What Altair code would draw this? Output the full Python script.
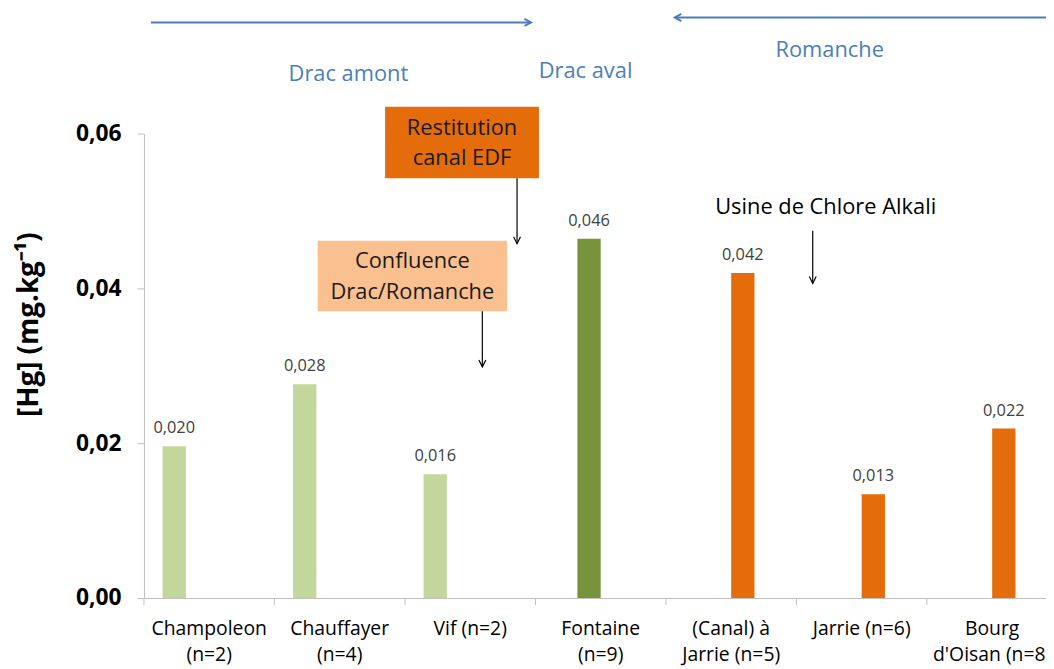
import altair as alt
import pandas as pd

# ---------------- data ----------------
categories = ["Champoleon|(n=2)", "Chauffayer|(n=4)", "Vif (n=2)", "Fontaine|(n=9)",
              "(Canal) à|Jarrie (n=5)", "Jarrie (n=6)", "Bourg|d'Oisan (n=8)"]
series = ["s1", "s1", "s1", "s2", "s3", "s3", "s3"]
values = [0.0196, 0.0276, 0.0160, 0.0464, 0.0420, 0.0134, 0.0219]
series_domain = ["s1", "s2", "s3", "s4"]
series_colors = ["#c3d69b", "#77933c", "#e46c0a", "#ffffff"]
y_ticks = [0, 0.02, 0.04, 0.06]

# annotation boxes (x in category-index units, y in data units)
box_x1 = [1.848, 1.331]
box_x2 = [3.027, 2.783]
box_y1 = [0.06346, 0.04615]
box_y2 = [0.05423, 0.03705]
box_fill = ["#e46c0a", "#fac090"]
box_text = ["Restitution\ncanal EDF", "Confluence\nDrac/Romanche"]

# black vertical arrows
arr_x = [2.859, 2.593, 5.125]
arr_y1 = [0.05423, 0.03705, 0.04744]
arr_y2 = [0.04577, 0.02987, 0.04064]

# blue horizontal arrows
blue_x1 = [0.053, 7.3]
blue_x2 = [2.966, 4.068]
blue_y = [0.07436, 0.0750]
blue_dir = ["right", "left"]

# region texts
reg_text = ["Drac amont", "Drac aval", "Romanche"]
reg_x = [1.567, 3.384, 5.255]
reg_y = [0.06769, 0.06808, 0.07077]

note_text = ["Usine de Chlore Alkali"]
note_x = [5.224]
note_y = [0.05051]

# ---------------- layout ----------------
FONT = "Open Sans"
BAND = 131.5
XR = [0, BAND * 7]
YR = [592, 124]
BLUE = "#4a7ebb"
GRAY = "#bfbfbf"

df = pd.DataFrame({"cat": categories, "series": series, "value": values})

xs = alt.Scale(domain=categories, range=XR, paddingInner=0, paddingOuter=0)
ys = alt.Scale(domain=[0, 0.06], range=YR, nice=False, zero=True)
xo = alt.Scale(domain=series_domain, paddingOuter=0.8, paddingInner=0)

x_axis = alt.Axis(title=None, labelExpr="split(datum.label, '|')", ticks=False,
                  domainColor=GRAY, domainWidth=1, labelFont=FONT, labelFontSize=19.5,
                  labelColor="#000000", labelPadding=22, labelLineHeight=25.5,
                  labelAngle=0, labelOverlap=False, labelBaseline="top")
y_axis = alt.Axis(values=y_ticks, labelExpr="replace(format(datum.value, '.2f'), '.', ',')",
                  title="[Hg] (mg.kg⁻¹)", titleFont=FONT, titleFontSize=28,
                  titleFontWeight="bold", titleColor="#000000", titleX=-115, titleY=316,
                  titleAlign="center", titleBaseline="middle", titleAngle=-90,
                  labelFont=FONT, labelFontSize=23, labelFontWeight="bold",
                  labelColor="#000000", labelPadding=16, tickSize=7, tickColor=GRAY,
                  domainColor=GRAY, grid=False)

X = alt.X("cat:N", sort=categories, scale=xs, axis=x_axis)
Y = alt.Y("value:Q", scale=ys, axis=y_axis)

base = alt.Chart(df)
bars = base.mark_bar().encode(
    x=X,
    xOffset=alt.XOffset("series:N", scale=xo),
    y=Y,
    color=alt.Color("series:N", scale=alt.Scale(domain=series_domain, range=series_colors), legend=None),
)
labels = base.transform_calculate(
    lab="replace(format(datum.value, '.3f'), '.', ',')"
).mark_text(font=FONT, fontSize=16.5, color="#404040", baseline="bottom", dy=-10).encode(
    x=X,
    xOffset=alt.XOffset("series:N", scale=xo),
    y=Y,
    text="lab:N",
)
xticks = base.mark_rule(color=GRAY, strokeWidth=1).encode(
    x=alt.X("cat:N", sort=categories, scale=xs, axis=x_axis, bandPosition=0),
    y=alt.value(592), y2=alt.value(599),
)
main = alt.layer(bars, labels, xticks)

# ---------------- annotations ----------------
xa = alt.Scale(domain=[0, 7], range=XR, nice=False, zero=False)
ya = alt.Scale(domain=[0, 0.06], range=YR, nice=False, zero=False)

boxes_df = pd.DataFrame({"x1": box_x1, "x2": box_x2, "y1": box_y1, "y2": box_y2,
                         "fill": box_fill, "text": box_text})
boxes_df["xm"] = (boxes_df.x1 + boxes_df.x2) / 2
boxes_df["ym"] = (boxes_df.y1 + boxes_df.y2) / 2
boxes = alt.Chart(boxes_df).mark_rect().encode(
    x=alt.X("x1:Q", scale=xa, axis=None), x2="x2:Q",
    y=alt.Y("y1:Q", scale=ya, axis=None), y2="y2:Q",
    color=alt.Color("fill:N", scale=None),
)
box_labels = alt.Chart(boxes_df).mark_text(font=FONT, fontSize=22, color="#1a1a1a",
                                           lineBreak="\n", lineHeight=31, baseline="middle",
                                           dy=-15).encode(
    x=alt.X("xm:Q", scale=xa, axis=None),
    y=alt.Y("ym:Q", scale=ya, axis=None),
    text="text:N",
)

arr_df = pd.DataFrame({"x": arr_x, "y1": arr_y1, "y2": arr_y2})
arr_lines = alt.Chart(arr_df).mark_rule(color="#000000", strokeWidth=1.2).encode(
    x=alt.X("x:Q", scale=xa, axis=None),
    y=alt.Y("y1:Q", scale=ya, axis=None), y2="y2:Q",
)
arr_heads = alt.Chart(arr_df).mark_point(shape="M-1.1,-2.2L0,0L1.1,-2.2", filled=False,
                                         color="#000000", strokeWidth=1.2, size=40, opacity=1).encode(
    x=alt.X("x:Q", scale=xa, axis=None),
    y=alt.Y("y2:Q", scale=ya, axis=None),
)

blue_df = pd.DataFrame({"x1": blue_x1, "x2": blue_x2, "y": blue_y, "dir": blue_dir})
blue_lines = alt.Chart(blue_df).mark_rule(color=BLUE, strokeWidth=2).encode(
    x=alt.X("x1:Q", scale=xa, axis=None), x2="x2:Q",
    y=alt.Y("y:Q", scale=ya, axis=None),
)
blue_head_r = alt.Chart(blue_df).transform_filter("datum.dir == 'right'").mark_point(
    shape="M-2.2,-1.2L0,0L-2.2,1.2", filled=False, color=BLUE, strokeWidth=2, size=36, opacity=1
).encode(x=alt.X("x2:Q", scale=xa, axis=None), y=alt.Y("y:Q", scale=ya, axis=None))
blue_head_l = alt.Chart(blue_df).transform_filter("datum.dir == 'left'").mark_point(
    shape="M2.2,-1.2L0,0L2.2,1.2", filled=False, color=BLUE, strokeWidth=2, size=36, opacity=1
).encode(x=alt.X("x2:Q", scale=xa, axis=None), y=alt.Y("y:Q", scale=ya, axis=None))

reg_df = pd.DataFrame({"t": reg_text, "x": reg_x, "y": reg_y})
reg_labels = alt.Chart(reg_df).mark_text(font=FONT, fontSize=22, color=BLUE, baseline="middle").encode(
    x=alt.X("x:Q", scale=xa, axis=None), y=alt.Y("y:Q", scale=ya, axis=None), text="t:N")

note_df = pd.DataFrame({"t": note_text, "x": note_x, "y": note_y})
note_labels = alt.Chart(note_df).mark_text(font=FONT, fontSize=22, color="#000000", baseline="middle").encode(
    x=alt.X("x:Q", scale=xa, axis=None), y=alt.Y("y:Q", scale=ya, axis=None), text="t:N")

annot = alt.layer(boxes, box_labels, arr_lines, arr_heads, blue_lines, blue_head_r,
                  blue_head_l, reg_labels, note_labels)

chart = alt.layer(main, annot).resolve_scale(x="independent", y="independent").properties(
    width=909, height=592,
    autosize=alt.AutoSizeParams(type="none"),
    padding={"left": 137, "top": 0, "right": 0, "bottom": 69},
    background="#ffffff",
).configure_view(stroke=None)

chart.save("out.html", embed_options={"renderer": "svg", "actions": False})
